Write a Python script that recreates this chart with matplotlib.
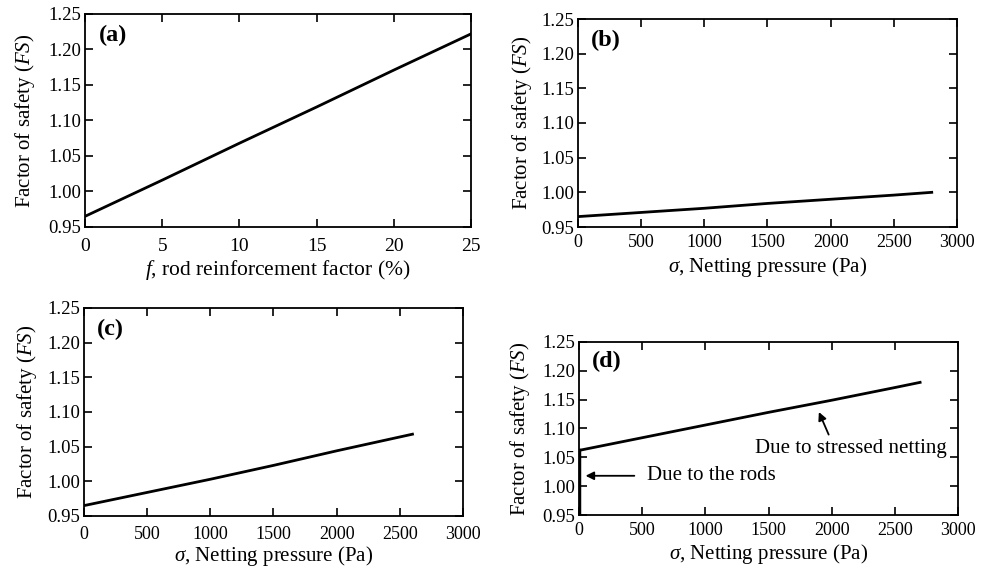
import numpy as np
import matplotlib
matplotlib.use("Agg")
import matplotlib.pyplot as plt

plt.rcParams['font.family'] = ['Liberation Serif', 'DejaVu Serif']
plt.rcParams['mathtext.fontset'] = 'custom'
plt.rcParams['mathtext.rm'] = 'Liberation Serif'
plt.rcParams['mathtext.it'] = 'Liberation Serif:italic'

# data
f_pct = [0, 5, 10, 15, 20, 25]
fs_a = [0.965, 1.016, 1.068, 1.119, 1.171, 1.222]

sig_b = [0, 500, 1000, 1500, 2000, 2500, 2800]
fs_b = [0.965, 0.971, 0.977, 0.984, 0.990, 0.996, 1.000]

sig_c = [0, 500, 1000, 1500, 2000, 2500, 2600]
fs_c = [0.965, 0.984, 1.003, 1.023, 1.044, 1.064, 1.068]

sig_d = [0, 500, 1000, 1500, 2000, 2500, 2700]
fs_d = [1.062, 1.084, 1.106, 1.128, 1.149, 1.171, 1.180]
rods_x = [0, 0]
rods_y = [0.95, 1.062]

yticks = [0.95, 1.00, 1.05, 1.10, 1.15, 1.20, 1.25]
sig_ticks = [0, 500, 1000, 1500, 2000, 2500, 3000]

W, H = 987, 571
fig = plt.figure(figsize=(9.87, 5.71), dpi=100)

def box(l, t, r, b):
    return [l / W, 1 - b / H, (r - l) / W, (b - t) / H]

axa = fig.add_axes(box(85, 14, 471, 227))
axb = fig.add_axes(box(578, 19, 957, 227))
axc = fig.add_axes(box(84, 308, 463, 516))
axd = fig.add_axes(box(579, 342, 958, 515))

ylab = r'Factor of safety ($FS$)'
sig_lab = r'$\sigma$, Netting pressure (Pa)'

def style(ax, xticks, letter, xpad, xsize=13, ypad=5):
    ax.set_ylim(0.95, 1.25)
    ax.set_xlim(xticks[0], xticks[-1])
    ax.set_yticks(yticks)
    ax.set_yticklabels(['%.2f' % v for v in yticks])
    ax.set_xticks(xticks)
    ax.tick_params(direction='in', top=True, right=True, length=6, width=1.2)
    ax.tick_params(axis='y', labelsize=13.5, pad=3)
    ax.tick_params(axis='x', labelsize=xsize, pad=xpad)
    for s in ax.spines.values():
        s.set_linewidth(1.3)
    ax.set_ylabel(ylab, fontsize=15, labelpad=ypad)
    ax.text(0.035, 0.95, letter, transform=ax.transAxes, fontsize=17.5,
            fontweight='bold', va='top', ha='left')

axa.plot(f_pct, fs_a, color='black', lw=2)
style(axa, f_pct, '(a)', 8, 14, ypad=8)
axa.set_xlabel(r'$f$, rod reinforcement factor (%)', fontsize=15.5, labelpad=2)

axb.plot(sig_b, fs_b, color='black', lw=2)
style(axb, sig_ticks, '(b)', 5)
axb.set_xlabel(sig_lab, fontsize=15, labelpad=3)

axc.plot(sig_c, fs_c, color='black', lw=2)
style(axc, sig_ticks, '(c)', 7, ypad=6)
axc.set_xlabel(sig_lab, fontsize=15, labelpad=1)

axd.plot(sig_d, fs_d, color='black', lw=2)
axd.plot(rods_x, rods_y, color='black', lw=2.5)
style(axd, sig_ticks, '(d)', 5, ypad=7)
axd.set_xlabel(sig_lab, fontsize=15, labelpad=2)

arrow = dict(arrowstyle='-|>', color='black', lw=1.3, mutation_scale=12)
axd.annotate('Due to stressed netting', xy=(1890, 1.133), xytext=(1390, 1.066),
             fontsize=15, va='center', ha='left')
axd.annotate('', xy=(1890, 1.133), xytext=(1985, 1.085), arrowprops=arrow)
axd.annotate('Due to the rods', xy=(30, 1.018), xytext=(540, 1.018),
             fontsize=15, va='center', ha='left')
axd.annotate('', xy=(30, 1.018), xytext=(460, 1.018), arrowprops=arrow)

fig.savefig('out.png', dpi=100)
